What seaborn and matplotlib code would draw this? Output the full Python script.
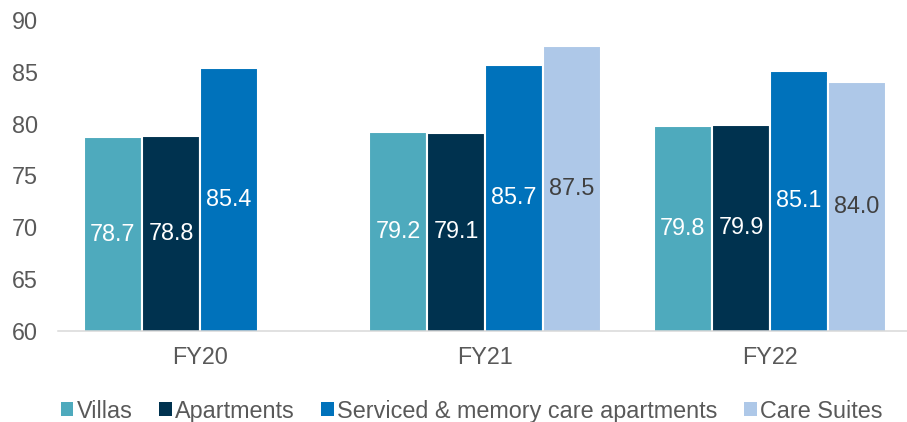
import numpy as np
import pandas as pd
import seaborn as sns
import matplotlib.pyplot as plt
from matplotlib.patches import Patch

sns.set_theme(style="white")
plt.rcParams["font.family"] = ["Liberation Sans", "DejaVu Sans"]

years = ["FY20", "FY21", "FY22"]
series = ["Villas", "Apartments", "Serviced & memory care apartments", "Care Suites"]
villas = [78.7, 79.2, 79.8]
apartments = [78.8, 79.1, 79.9]
serviced = [85.4, 85.7, 85.1]
care_suites = [np.nan, 87.5, 84.0]

colors = ["#4eaabd", "#00324f", "#0072bb", "#aec8e8"]
label_colors = ["white", "white", "white", "#404040"]
FS = 16.8

rows = []
for name, vals in zip(series, [villas, apartments, serviced, care_suites]):
    for yr, v in zip(years, vals):
        rows.append({"year": yr, "series": name, "value": v})
df = pd.DataFrame(rows)

fig = plt.figure(figsize=(9.07, 4.22), dpi=100)
ax = fig.add_axes([57.5 / 907, 1 - 331 / 422, 855 / 907, 311 / 422])

sns.barplot(
    data=df, x="year", y="value", hue="series",
    hue_order=series, order=years, palette=colors, saturation=1,
    width=0.815, edgecolor="white", linewidth=1.5,
    ax=ax, legend=False,
)

ax.set_ylim(60, 90)
ax.set_yticks(range(60, 91, 5))
ax.set_xlim(-0.5, 2.5)
ax.set_xlabel("")
ax.set_ylabel("")
ax.tick_params(axis="both", length=0, labelsize=FS, colors="#595959")
ax.tick_params(axis="y", pad=14)
ax.tick_params(axis="x", pad=11)
for s in ["top", "right", "left"]:
    ax.spines[s].set_visible(False)
ax.spines["bottom"].set_color("#d9d9d9")
ax.spines["bottom"].set_linewidth(1.1)

# value labels in the middle of each visible bar
for cont, lc in zip(ax.containers, label_colors):
    for bar in cont:
        if bar is None:
            continue
        h = bar.get_height()
        if np.isnan(h):
            continue
        x = bar.get_x() + bar.get_width() / 2
        y0 = ax.get_ylim()[0]
        ax.text(x, (y0 + h) / 2, f"{h:.1f}", ha="center", va="center",
                color=lc, fontsize=FS)

handles = [Patch(facecolor=c, edgecolor="none") for c in colors]
fig.legend(
    handles, series, loc="center", bbox_to_anchor=(0.52, 0.026),
    ncol=4, frameon=False, fontsize=FS, handlelength=0.55, handleheight=0.55,
    handletextpad=0.15, columnspacing=1.12, labelcolor="#595959",
    borderpad=0, borderaxespad=0,
)

fig.savefig("out.png", dpi=100)
